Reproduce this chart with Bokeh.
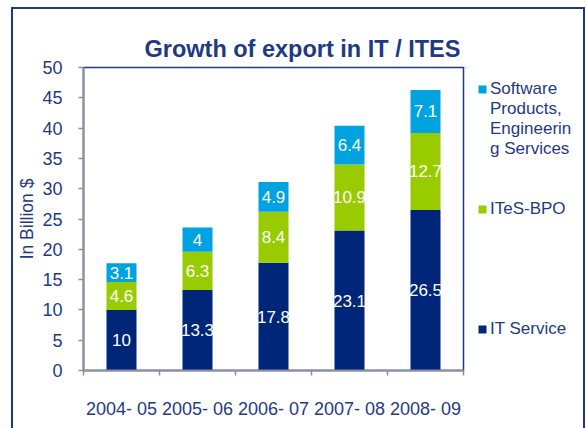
import numpy as np
from bokeh.plotting import figure
from bokeh.layouts import column, row
from bokeh.models import (ColumnDataSource, FixedTicker, Legend, LegendItem, Range1d)
from bokeh.core.properties import value
from bokeh.embed import file_html
from bokeh.resources import INLINE

# ---- data ----
categories = ["2004- 05", "2005- 06", "2006- 07", "2007- 08", "2008- 09"]
it_service = [10, 13.3, 17.8, 23.1, 26.5]
ites_bpo = [4.6, 6.3, 8.4, 10.9, 12.7]
software = [3.1, 4, 4.9, 6.4, 7.1]
# legend labels as wrapped in the original
software_lines = ["Software", "Products,", "Engineerin", "g Services"]
ites_label = "ITeS-BPO"
it_label = "IT Service"
y_ticks = list(range(0, 51, 5))
title_text = "Growth of export in IT / ITES"
y_title = "In Billion $"

# ---- style ----
TEXT = "#1F3A84"
FRAME = "#1F3A84"
AXIS = "#8C8F9C"
colors = ["#00267A", "#99CC00", "#00A3E0"]
FONT = "Liberation Sans"

x = np.arange(len(categories)) + 0.5
src = ColumnDataSource(dict(x=x, it=it_service, bpo=ites_bpo, sw=software))

p = figure(width=452, height=419, x_range=Range1d(0, len(categories)),
           y_range=Range1d(0, 50), output_backend="svg", toolbar_location=None,
           min_border_left=70, min_border_right=2, min_border_top=52,
           min_border_bottom=58, background_fill_color="white",
           border_fill_color="white")

p.title.text = title_text
p.title.text_font = FONT
p.title.text_font_size = "23.5px"
p.title.text_font_style = "bold"
p.title.text_color = TEXT
p.title.align = "left"
p.title.offset = 61
p.title.standoff = 11

rs = p.vbar_stack(["it", "bpo", "sw"], x="x", width=0.395, color=colors,
                  line_color=None, source=src)

it_a = np.array(it_service)
bpo_a = np.array(ites_bpo)
sw_a = np.array(software)
lx = np.concatenate([x, x, x])
ly = np.concatenate([it_a / 2, it_a + bpo_a / 2, it_a + bpo_a + sw_a / 2])
lt = [f"{v:g}" for v in list(it_service) + list(ites_bpo) + list(software)]
p.text(x=lx, y=ly, text=lt, text_color="white", text_align="center",
       text_baseline="middle", text_font=value(FONT), text_font_size="17px")

# axes
p.xgrid.grid_line_color = None
p.ygrid.grid_line_color = None
p.outline_line_color = FRAME
p.outline_line_width = 1.5

xa = p.xaxis[0]
xa.ticker = FixedTicker(ticks=list(x), minor_ticks=list(range(len(categories) + 1)))
xa.major_label_overrides = {float(xi): c for xi, c in zip(x, categories)}
xa.major_tick_out = 0
xa.major_tick_in = 0
xa.minor_tick_out = 5
xa.minor_tick_in = 0
xa.minor_tick_line_color = AXIS
xa.minor_tick_line_width = 1.5
xa.axis_line_color = AXIS
xa.axis_line_width = 2
xa.major_label_standoff = 23
xa.major_label_text_font = FONT
xa.major_label_text_font_size = "18px"
xa.major_label_text_color = TEXT

ya = p.yaxis[0]
ya.ticker = FixedTicker(ticks=y_ticks)
ya.major_tick_out = 5
ya.major_tick_in = 0
ya.minor_tick_line_color = None
ya.major_tick_line_color = AXIS
ya.major_tick_line_width = 1.5
ya.axis_line_color = AXIS
ya.axis_line_width = 2
ya.major_label_standoff = 16
ya.major_label_text_font = FONT
ya.major_label_text_font_size = "18px"
ya.major_label_text_color = TEXT
ya.axis_label = y_title
ya.axis_label_text_font = FONT
ya.axis_label_text_font_size = "17.5px"
ya.axis_label_text_font_style = "normal"
ya.axis_label_text_color = TEXT
ya.axis_label_standoff = 2

# ---- legend panel: a frame-only figure whose legend draws the series swatches ----
# (its own copy of the bars lies outside its ranges, so only the legend shows)
lp = figure(width=118, height=419, x_range=Range1d(50, 51), y_range=Range1d(-2, -1),
            output_backend="svg", toolbar_location=None, x_axis_type=None,
            y_axis_type=None, min_border_left=0, min_border_right=0,
            min_border_top=58, min_border_bottom=0, outline_line_color=None,
            background_fill_color="white", border_fill_color="white")
lp.xgrid.grid_line_color = None
lp.ygrid.grid_line_color = None
lrs = lp.vbar_stack(["it", "bpo", "sw"], x="x", width=0.395, color=colors,
                    line_color=None, source=src)
l_it, l_bpo, l_sw = lrs
items = [LegendItem(label=software_lines[0], renderers=[l_sw])]
items += [LegendItem(label=t, renderers=[]) for t in software_lines[1:]]
items += [LegendItem(label=" ", renderers=[]) for _ in range(2)]
items += [LegendItem(label=ites_label, renderers=[l_bpo])]
items += [LegendItem(label=" ", renderers=[]) for _ in range(5)]
items += [LegendItem(label=it_label, renderers=[l_it])]
leg = Legend(items=items, location="top_left",
             border_line_color=None, background_fill_alpha=0, padding=0,
             margin=12, spacing=0, glyph_width=10, glyph_height=10,
             label_height=20, label_standoff=3, label_text_font=FONT,
             label_text_font_size="17px", label_text_color=TEXT)
lp.add_layout(leg)

page = column(row(p, lp), styles={"margin-left": "13px", "margin-top": "9px",
                                  "outline": "2px solid #1F3A84"})

open("out.html", "w").write(file_html(page, INLINE))
